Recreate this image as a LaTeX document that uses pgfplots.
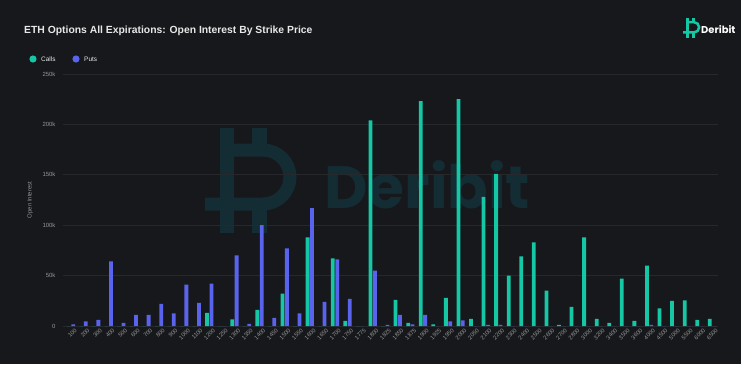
\documentclass[border=0pt]{standalone}
\usepackage{pgfplots}
\pgfplotsset{compat=1.18}
\usepackage{pgfplotstable}
\usepackage{fontspec}
\setmainfont{Liberation Sans}
\newfontfamily\poppins{Poppins}
\definecolor{bg}{RGB}{23,24,27}
\definecolor{calls}{RGB}{22,199,166}
\definecolor{puts}{RGB}{90,99,235}
\definecolor{wm}{RGB}{20,44,52}
\definecolor{gridc}{RGB}{38,40,43}
\definecolor{tickc}{RGB}{150,150,150}
\definecolor{titlec}{RGB}{232,232,232}

\pgfplotstableread{
idx C P
0 0 1.5
1 0 4.5
2 0 6
3 0 64
4 0 3
5 0 11
6 0 11
7 0 22
8 0 12.5
9 0 41
10 0 23
11 13 42
12 0 0
13 6.5 70
14 0 2
15 16 100
16 0 8
17 32 77
18 0 12.5
19 88 117
20 0 24
21 67 66
22 5 27
23 0 0
24 204 55
25 0 1
26 26 11
27 3 1.5
28 223 11
29 1.5 0
30 28 4.5
31 225 5.5
32 7 0
33 128 1
34 151 1
35 50 0
36 69 0
37 83 0
38 35 0
39 1 0
40 19 0
41 88 0
42 7 0
43 3 0
44 47 0
45 5 0
46 60 1
47 17.5 0
48 25 0
49 25.5 0
50 6 0
51 7 0
}\oidata

% Deribit-like icon, local units: origin top-left, y down negative
\newcommand\derilogo[2]{% #1 colour, #2 line width
  \fill[#1] (15,0) rectangle (29,-105);
  \fill[#1] (47,0) rectangle (62,-22);
  \fill[#1] (47,-76) rectangle (62,-105);
  \draw[#1, line width=#2] (0,-76) -- (58,-76) arc[start angle=-90, end angle=90, radius=27] -- (22,-22);
}

\begin{document}
\begin{tikzpicture}[x=1bp,y=1bp]
\path[use as bounding box] (0,0) rectangle (741,364);
\fill[bg] (0,0) rectangle (741,364);

% watermark
\begin{scope}[shift={(205,236)}]
  \derilogo{wm}{13bp}
\end{scope}
\node[anchor=base west, inner sep=0, text=wm, font=\poppins\bfseries\fontsize{60}{62}\selectfont] at (324,156) {Deribit};

% top-right logo
\begin{scope}[shift={(683,346)}, scale=0.19]
  \derilogo{calls}{2.5bp}
\end{scope}
\node[anchor=base west, inner sep=0, text=white, font=\poppins\bfseries\fontsize{10}{12}\selectfont] at (701,331) {Deribit};

% title
\node[anchor=base west, inner sep=0, text=titlec, font=\bfseries\fontsize{10.4}{12}\selectfont] at (24,331) {ETH Options All Expirations: Open Interest By Strike Price};

% legend
\fill[calls] (33,305) circle (3.6);
\node[anchor=west, inner sep=0, text=titlec, font=\fontsize{6.5}{8}\selectfont] at (41,305) {Calls};
\fill[puts] (76,305) circle (3.6);
\node[anchor=west, inner sep=0, text=titlec, font=\fontsize{6.5}{8}\selectfont] at (84,305) {Puts};

\begin{axis}[
  at={(63bp,38bp)}, anchor=south west,
  scale only axis, width=655bp, height=252bp,
  xmin=-0.64, xmax=51.48, ymin=0, ymax=250,
  axis line style={draw=none},
  major tick length=0pt,
  ymajorgrids, grid style={gridc, line width=0.8bp},
  ytick={0,50,100,150,200,250},
  yticklabels={0,50k,100k,150k,200k,250k},
  yticklabel style={font=\fontsize{6}{7}\selectfont, text=tickc, xshift=-4bp},
  xtick={0,...,51},
  xticklabels={100,200,300,400,500,600,700,800,900,1000,1100,1200,1250,1300,1350,1400,1450,1500,1550,1600,1650,1700,1750,1775,1800,1825,1850,1875,1900,1925,1950,2000,2050,2100,2200,2300,2400,2500,2600,2700,2800,3000,3200,3400,3500,3600,4000,4500,5000,5500,6000,6500},
  xticklabel style={font=\fontsize{5.8}{6.5}\selectfont, text=tickc, rotate=45, anchor=east, inner sep=0.5bp, yshift=-6bp, xshift=1.5bp},
  ylabel={Open Interest},
  ylabel style={at={(axis description cs:-0.05,0.5)}, anchor=center, font=\fontsize{6}{7}\selectfont, text=tickc},
  ybar, bar width=3.8bp,
]
\addplot[fill=calls, draw=none, bar shift=-2.2bp] table[x=idx, y=C] {\oidata};
\addplot[fill=puts, draw=none, bar shift=2.2bp] table[x=idx, y=P] {\oidata};
\end{axis}
\end{tikzpicture}
\end{document}
